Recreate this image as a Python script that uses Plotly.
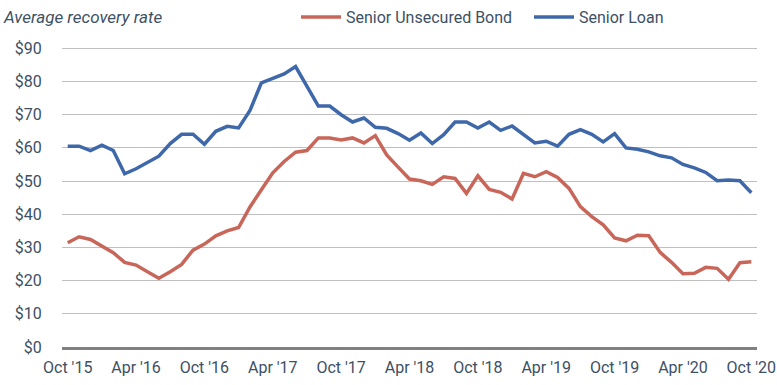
import pandas as pd
import plotly.graph_objects as go

months = [d.strftime("%b '%y") for d in pd.date_range("2015-10-01", "2020-10-01", freq="MS")]

senior_unsecured_bond = [
    31.4, 33.2, 32.4, 30.4, 28.4, 25.5, 24.7, 22.7, 20.7, 22.7,
    24.9, 29.2, 31.0, 33.5, 35.0, 36.0, 42.2, 47.4, 52.5, 55.9,
    58.7, 59.2, 63.0, 63.0, 62.4, 63.0, 61.5, 63.7, 57.9, 54.2,
    50.6, 50.1, 49.0, 51.3, 50.8, 46.3, 51.6, 47.5, 46.6, 44.6,
    52.3, 51.3, 52.8, 51.1, 47.8, 42.3, 39.3, 36.8, 32.9, 32.0,
    33.7, 33.5, 28.5, 25.5, 22.1, 22.2, 24.0, 23.7, 20.4, 25.4,
    25.7,
]

senior_loan = [
    60.5, 60.5, 59.2, 60.8, 59.2, 52.2, 53.7, 55.5, 57.5, 61.3,
    64.1, 64.1, 61.1, 65.0, 66.5, 66.0, 71.3, 79.6, 81.0, 82.3,
    84.5, 78.3, 72.6, 72.6, 70.0, 67.8, 69.0, 66.2, 65.9, 64.3,
    62.3, 64.5, 61.3, 64.0, 67.8, 67.8, 66.0, 67.8, 65.3, 66.6,
    64.1, 61.5, 62.0, 60.5, 64.1, 65.5, 64.1, 61.8, 64.3, 60.0,
    59.6, 58.8, 57.6, 57.0, 55.0, 54.0, 52.6, 50.1, 50.3, 50.1,
    46.5,
]

tick_labels = ["Oct '15", "Apr '16", "Oct '16", "Apr '17", "Oct '17", "Apr '18",
               "Oct '18", "Apr '19", "Oct '19", "Apr '20", "Oct '20"]
y_ticks = [0, 10, 20, 30, 40, 50, 60, 70, 80, 90]
y_tick_text = ["$" + str(v) for v in y_ticks]

RED = "#C8665A"
BLUE = "#3E68AA"
TXT = "#3D5064"
FONT = "Roboto"

fig = go.Figure()
fig.add_trace(go.Scatter(x=months, y=senior_unsecured_bond, name="Senior Unsecured Bond",
                         mode="lines", line=dict(color=RED, width=3.5)))
fig.add_trace(go.Scatter(x=months, y=senior_loan, name="Senior Loan",
                         mode="lines", line=dict(color=BLUE, width=3.5)))

fig.update_layout(
    width=777, height=385,
    margin=dict(l=62, r=20, t=45, b=38, autoexpand=False),
    paper_bgcolor="white", plot_bgcolor="white",
    font=dict(family=FONT, size=16, color=TXT),
    showlegend=True,
    legend=dict(orientation="h", x=296 / 777, y=1 - 17 / 385, xanchor="left", yanchor="middle",
                xref="container", yref="container", font=dict(size=16, color=TXT),
                bgcolor="rgba(0,0,0,0)", itemwidth=40, entrywidth=178, tracegroupgap=0),
    annotations=[dict(text="Average recovery rate", xref="paper", yref="paper",
                      x=-61 / 695, y=1.0, xanchor="left", yanchor="middle", yshift=28,
                      showarrow=False, font=dict(family=FONT, size=17, color=TXT, style="italic"))],
)

fig.update_xaxes(type="category", range=[-0.5, len(months) - 0.5],
                 tickmode="array", tickvals=tick_labels, ticktext=tick_labels,
                 showgrid=False, showline=True, linecolor="#808080", linewidth=3,
                 ticks="outside", ticklen=4, tickcolor="rgba(0,0,0,0)",
                 tickfont=dict(size=16, color=TXT), zeroline=False)
fig.update_yaxes(range=[0, 91], tickmode="array", tickvals=y_ticks, ticktext=y_tick_text,
                 showgrid=True, gridcolor="#BFBFBF", gridwidth=1, zeroline=False,
                 showline=False, ticks="outside", ticklen=16, tickcolor="rgba(0,0,0,0)",
                 tickfont=dict(size=16, color=TXT))

fig.write_html("out.html", config={"displayModeBar": False},
               post_script="document.body.style.margin='0';")
